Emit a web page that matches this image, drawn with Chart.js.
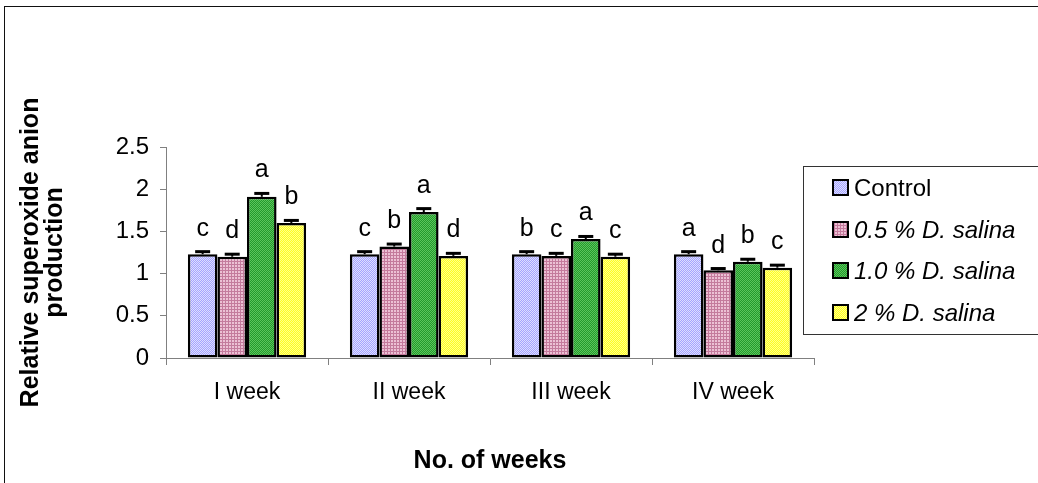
<!DOCTYPE html>
<html>
<head>
<meta charset="utf-8">
<script src="https://cdn.jsdelivr.net/npm/chart.js@4/dist/chart.umd.min.js"></script>
<style>
  html, body { margin: 0; padding: 0; background: #fff; overflow: hidden; }
  #wrap { position: relative; width: 1038px; height: 483px; overflow: hidden; }
  #frame { position: absolute; left: 4px; top: 6px; width: 1100px; height: 600px;
           border: 1px solid #111; box-sizing: border-box; pointer-events: none; }
  canvas { position: absolute; left: 0; top: 0; }
</style>
</head>
<body>
<div id="wrap">
  <canvas id="chart" width="1038" height="483"></canvas>
  <div id="frame"></div>
</div>
<script>
// Weekly relative superoxide anion production
const weeks = ['I week', 'II week', 'III week', 'IV week'];
const seriesLabels = ['Control', '0.5 % D. salina', '1.0 % D. salina', '2 % D. salina'];

const controlValues  = [1.23, 1.23, 1.23, 1.23];
const salina05Values = [1.20, 1.32, 1.21, 1.04];
const salina10Values = [1.91, 1.73, 1.41, 1.14];
const salina20Values = [1.60, 1.21, 1.20, 1.07];

const controlErr  = [0.03, 0.03, 0.03, 0.03];
const salina05Err = [0.03, 0.03, 0.03, 0.02];
const salina10Err = [0.04, 0.04, 0.03, 0.03];
const salina20Err = [0.03, 0.03, 0.03, 0.03];

const controlLetters  = ['c', 'c', 'b', 'a'];
const salina05Letters = ['d', 'b', 'c', 'd'];
const salina10Letters = ['a', 'a', 'a', 'b'];
const salina20Letters = ['b', 'd', 'c', 'c'];

const yTicks = { min: 0, max: 2.5, step: 0.5 };

// small dotted fills
function makePattern(size, pick) {
  const c = document.createElement('canvas');
  c.width = size; c.height = size;
  const g = c.getContext('2d');
  for (let y = 0; y < size; y++) {
    for (let x = 0; x < size; x++) {
      g.fillStyle = pick(x, y);
      g.fillRect(x, y, 1, 1);
    }
  }
  return g.createPattern(c, 'repeat');
}
const ctx = document.getElementById('chart').getContext('2d');
const fills = [
  makePattern(2, (x, y) => ((x + y) % 2 ? '#a4a4ff' : '#dedeff')),
  makePattern(3, (x, y) => ((x % 3 === 0 || y % 3 === 0) ? '#c47a9c' : '#ecc0d4')),
  makePattern(2, (x, y) => ((x + y) % 2 ? '#239a2c' : '#5cc45c')),
  makePattern(2, (x, y) => ((x + y) % 2 ? '#ffff1e' : '#ffff8c'))
];

const seriesValues = [controlValues, salina05Values, salina10Values, salina20Values];
const seriesErr = [controlErr, salina05Err, salina10Err, salina20Err];
const seriesLetters = [controlLetters, salina05Letters, salina10Letters, salina20Letters];

const datasets = seriesLabels.map((label, i) => ({
  label,
  data: seriesValues[i],
  errors: seriesErr[i],
  letters: seriesLetters[i],
  backgroundColor: fills[i],
  borderColor: '#000',
  borderWidth: 2.5,
  borderSkipped: false,
  categoryPercentage: 0.73,
  barPercentage: 1.0
}));

const FONT = "'Liberation Sans', Arial, sans-serif";

// error bars and significance letters on top of each bar
const barExtras = {
  id: 'barExtras',
  afterDatasetsDraw(chart) {
    const g = chart.ctx;
    const ys = chart.scales.y;
    chart.data.datasets.forEach((ds, i) => {
      const meta = chart.getDatasetMeta(i);
      meta.data.forEach((bar, j) => {
        const v = ds.data[j];
        const e = ds.errors[j];
        const yTop = ys.getPixelForValue(v);
        const yErr = ys.getPixelForValue(v + e);
        g.save();
        g.strokeStyle = '#000';
        g.lineWidth = 2;
        g.beginPath();
        g.moveTo(bar.x, yTop);
        g.lineTo(bar.x, yErr);
        g.stroke();
        g.lineWidth = 3;
        g.beginPath();
        g.moveTo(bar.x - 7.5, yErr);
        g.lineTo(bar.x + 7.5, yErr);
        g.stroke();
        g.fillStyle = '#000';
        g.font = '25px ' + FONT;
        g.textAlign = 'center';
        g.textBaseline = 'alphabetic';
        g.fillText(ds.letters[j], bar.x, yErr - 16);
        g.restore();
      });
    });
  }
};

// boxed legend at the right
const boxLegend = {
  id: 'boxLegend',
  afterDraw(chart) {
    const g = chart.ctx;
    g.save();
    g.strokeStyle = '#333';
    g.lineWidth = 1;
    g.strokeRect(803.5, 166.5, 260, 168);
    const rows = [188, 230, 271, 313];
    chart.data.datasets.forEach((ds, i) => {
      const cy = rows[i];
      g.fillStyle = ds.backgroundColor;
      g.fillRect(833, cy - 8, 15, 15);
      g.strokeStyle = '#000';
      g.lineWidth = 2;
      g.strokeRect(833, cy - 8, 15, 15);
      g.fillStyle = '#000';
      g.font = (i === 0 ? '' : 'italic ') + '24px ' + FONT;
      g.textAlign = 'left';
      g.textBaseline = 'middle';
      g.fillText(ds.label, 854, cy + 1);
    });
    g.restore();
  }
};

new Chart(ctx, {
  type: 'bar',
  data: { labels: weeks, datasets },
  options: {
    responsive: false,
    animation: false,
    devicePixelRatio: 1,
    layout: { padding: { left: 8, right: 224, top: 147, bottom: 0 } },
    plugins: { legend: { display: false }, tooltip: { enabled: false } },
    scales: {
      x: {
        afterFit(s) { s.height = 125; },
        grid: { drawOnChartArea: false, offset: true, tickLength: 7, color: '#808080', lineWidth: 1 },
        border: { color: '#808080', width: 1 },
        ticks: { color: '#000', font: { family: FONT, size: 23 }, padding: 14 },
        title: { display: true, text: 'No. of weeks', color: '#000',
                 font: { family: FONT, size: 25, weight: 'bold', lineHeight: 1 },
                 padding: { top: 0, bottom: 9 } }
      },
      y: {
        min: yTicks.min, max: yTicks.max,
        afterFit(s) { s.width = 158; },
        grid: { drawOnChartArea: false, tickLength: 6, color: '#808080', lineWidth: 1 },
        border: { color: '#808080', width: 1 },
        ticks: { stepSize: yTicks.step, color: '#000', font: { family: FONT, size: 24 }, padding: 11,
                 callback: v => String(Math.round(v * 10) / 10) },
        title: { display: true, text: ['Relative superoxide anion', 'production'], color: '#000',
                 font: { family: FONT, size: 25, weight: 'bold', lineHeight: 0.96 },
                 padding: { top: 11, bottom: 0 } }
      }
    }
  },
  plugins: [barExtras, boxLegend]
});
</script>
</body>
</html>
